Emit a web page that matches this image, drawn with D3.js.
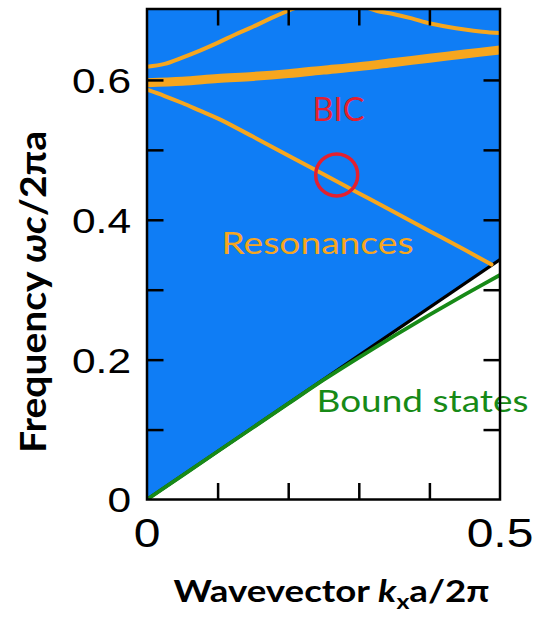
<!DOCTYPE html>
<html>
<head>
<meta charset="utf-8">
<script src="https://cdn.jsdelivr.net/npm/d3@7"></script>
<style>
  body { margin: 0; background: #fff; }
  svg { display: block; }
</style>
</head>
<body>
<svg id="chart" width="537" height="617"></svg>
<script>
// ---- Band-structure data (wavevector k_x a/2π, frequency ωc/2πa) ----
const xDomain = [0, 0.5];
const yDomain = [0, 0.7];
const xMinorTicks = [0.1, 0.2, 0.3, 0.4];
const yMinorTicks = [0.1, 0.2, 0.3, 0.4, 0.5, 0.6];
const xTickLabels = [0, 0.5];
const yTickLabels = [0, 0.2, 0.4, 0.6];

// light line (edge of the radiation continuum)
const lightK = [0, 0.5];
const lightW = [0, 0.343];

// guided (bound) mode below the light line
const boundK = [0, 0.1, 0.2, 0.25, 0.3, 0.35, 0.4, 0.45, 0.5];
const boundW = [0, 0.0686, 0.137, 0.171, 0.203, 0.234, 0.264, 0.293, 0.321];

// resonance bands above the light line
const resA_K = [0, 0.025, 0.05, 0.075, 0.1, 0.15, 0.2, 0.25, 0.3, 0.35, 0.4, 0.45, 0.488];
const resA_W = [0.586, 0.577, 0.567, 0.556, 0.545, 0.519, 0.492, 0.465, 0.438, 0.411, 0.384, 0.357, 0.336];

const resB_K = [0, 0.05, 0.1, 0.15, 0.2, 0.25, 0.3, 0.35, 0.4, 0.45, 0.5];
const resB_W = [0.596, 0.598, 0.602, 0.605, 0.609, 0.614, 0.619, 0.625, 0.631, 0.637, 0.643];

const resC_K = [0, 0.025, 0.05, 0.075, 0.1, 0.125, 0.15, 0.175, 0.2, 0.21];
const resC_W = [0.619, 0.623, 0.632, 0.642, 0.653, 0.665, 0.676, 0.688, 0.699, 0.703];

const resD_K = [0.31, 0.325, 0.35, 0.375, 0.4, 0.425, 0.45, 0.475, 0.5];
const resD_W = [0.704, 0.699, 0.694, 0.688, 0.681, 0.676, 0.672, 0.669, 0.667];

// bound state in the continuum
const bicK = 0.2687;
const bicW = 0.4642;

// ---- Layout ----
const svg = d3.select("#chart");
const plotL = 147, plotR = 500, plotT = 10, plotB = 499.5;

const x = d3.scaleLinear().domain(xDomain).range([plotL, plotR]);
const y = d3.scaleLinear().domain(yDomain).range([plotB, plotT]);

const BLUE = "#0f7df5";
const ORANGE = "#f6a61e";
const GREEN = "#178a17";
const RED = "#e3202f";

const zip = (ks, ws) => ks.map((k, i) => [k, ws[i]]);
const line = d3.line().x(d => x(d[0])).y(d => y(d[1])).curve(d3.curveCatmullRom.alpha(0.5));

svg.append("clipPath").attr("id", "plot-clip")
  .append("rect").attr("x", plotL).attr("y", plotT)
  .attr("width", plotR - plotL).attr("height", plotB - plotT);

const plot = svg.append("g").attr("clip-path", "url(#plot-clip)");

// continuum above the light line
plot.append("path")
  .attr("fill", BLUE)
  .attr("d", d3.area().x(d => x(d[0])).y0(d => y(d[1])).y1(y(yDomain[1]))(zip(lightK, lightW)));

// light line
plot.append("path")
  .attr("d", line(zip(lightK, lightW)))
  .attr("fill", "none").attr("stroke", "#000").attr("stroke-width", 3.2);

// bound mode
plot.append("path")
  .attr("d", line(zip(boundK, boundW)))
  .attr("fill", "none").attr("stroke", GREEN).attr("stroke-width", 3.8);

// resonances
[[resA_K, resA_W, 4], [resB_K, resB_W, 9], [resC_K, resC_W, 4], [resD_K, resD_W, 4]].forEach(([ks, ws, sw]) => {
  plot.append("path")
    .attr("d", line(zip(ks, ws)))
    .attr("fill", "none").attr("stroke", ORANGE)
    .attr("stroke-width", sw).attr("stroke-linecap", "round");
});

// BIC marker
plot.append("circle")
  .attr("cx", x(bicK)).attr("cy", y(bicW)).attr("r", 21)
  .attr("fill", "none").attr("stroke", RED).attr("stroke-width", 3.5);

// ---- Text helpers ----
function stretchTo(sel, tx, ty, targetW, pre = "") {
  const w = sel.node().getBBox().width;
  sel.attr("transform", `translate(${tx},${ty}) ${pre} scale(${targetW / w},1)`);
}

const sans = "Lato, 'Open Sans', sans-serif";

const bicLabel = svg.append("text").text("BIC")
  .attr("font-family", sans).attr("font-size", 32).attr("fill", RED)
  .attr("text-anchor", "middle");
stretchTo(bicLabel, 338.5, 121, 52);

const resLabel = svg.append("text").text("Resonances")
  .attr("font-family", sans).attr("font-size", 31).attr("fill", ORANGE)
  .attr("text-anchor", "middle");
stretchTo(resLabel, 317.5, 254, 192);

const boundLabel = svg.append("text").text("Bound states")
  .attr("font-family", sans).attr("font-size", 31).attr("fill", GREEN)
  .attr("text-anchor", "middle");
stretchTo(boundLabel, 422.5, 412, 212);

// ---- Frame and ticks ----
const frame = svg.append("g").attr("stroke", "#000").attr("stroke-width", 2.5).attr("fill", "none");
frame.append("rect").attr("x", plotL).attr("y", plotT - 1)
  .attr("width", plotR - plotL).attr("height", plotB - plotT + 1);

const tickLen = 16.5;
const axes = [
  [d3.axisBottom(x).tickValues(xMinorTicks), `translate(0,${plotB})`],
  [d3.axisTop(x).tickValues(xMinorTicks), `translate(0,${plotT - 1})`],
  [d3.axisLeft(y).tickValues(yMinorTicks), `translate(${plotL},0)`],
  [d3.axisRight(y).tickValues(yMinorTicks), `translate(${plotR},0)`]
];
axes.forEach(([ax, tr]) => {
  const g = svg.append("g").attr("transform", tr)
    .call(ax.tickSizeInner(-tickLen).tickSizeOuter(0).tickFormat(""));
  g.select(".domain").remove();
  g.selectAll(".tick line").attr("stroke", "#000").attr("stroke-width", 2.5);
});

// tick labels
const numFmt = d => d === 0 ? "0" : d3.format(".1f")(d);
const tickFont = "'Liberation Sans', Arial, sans-serif";

yTickLabels.forEach(v => {
  svg.append("text").text(numFmt(v))
    .attr("font-family", tickFont).attr("font-size", 36)
    .attr("text-anchor", "end").attr("dy", "0.36em")
    .attr("transform", `translate(131,${y(v)}) scale(1.18,1)`);
});

xTickLabels.forEach(v => {
  svg.append("text").text(numFmt(v))
    .attr("font-family", tickFont).attr("font-size", 40)
    .attr("text-anchor", "middle")
    .attr("transform", `translate(${x(v)},547) scale(1.2,1)`);
});

// axis titles
const xTitle = svg.append("text")
  .attr("font-family", sans).attr("font-size", 31).attr("font-weight", 700)
  .attr("text-anchor", "middle");
xTitle.append("tspan").text("Wavevector ");
xTitle.append("tspan").text("k").attr("font-style", "italic");
xTitle.append("tspan").text("x").attr("font-size", 21).attr("dy", 7);
xTitle.append("tspan").text("a/2π").attr("dy", -7);
stretchTo(xTitle, 331.5, 602, 316);

const yTitle = svg.append("text")
  .attr("font-family", sans).attr("font-size", 32).attr("font-weight", 700)
  .attr("text-anchor", "middle");
yTitle.append("tspan").text("Frequency ");
yTitle.append("tspan").text("ωc").attr("font-style", "italic");
yTitle.append("tspan").text("/2πa");
stretchTo(yTitle, 46, 292, 322, "scale(1.16,1) rotate(-90)");
</script>
</body>
</html>
